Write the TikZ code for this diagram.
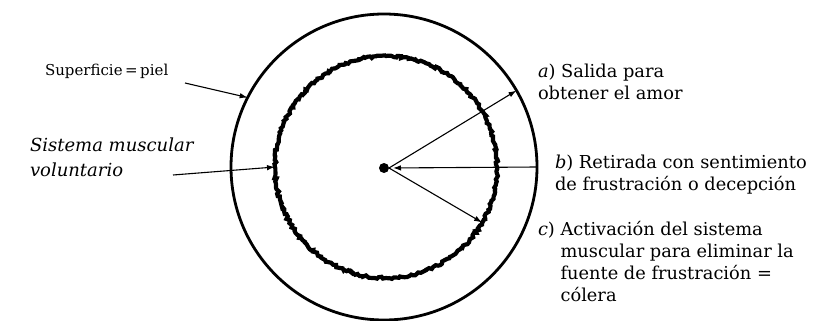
\documentclass[tikz,border=0pt]{standalone}
\usepackage{fontspec}
\setmainfont{DejaVu Serif}
\usetikzlibrary{positioning, arrows.meta, decorations.pathmorphing}

\begin{document}
\begin{tikzpicture}[x=1pt, y=-1pt,
    every node/.style={font=\fontsize{17.8}{22}\selectfont, inner sep=0pt, outer sep=0pt},
    skinring/.style={circle, draw, line width=2.8pt, minimum size=306pt},
    musclering/.style={line width=4.2pt, decorate, decoration={random steps, segment length=2pt, amplitude=1.2pt}},
    arrow/.style={-{Latex[length=8pt, width=5.5pt]}, line width=1.1pt},
    txt/.style={align=left, anchor=north west}]

  \pgfmathsetseed{7}
  \useasboundingbox (0,0) rectangle (814,321);

  \node[skinring] (skin) at (384,167) {};
  \node[circle, minimum size=222pt] (muscle) at (386,167) {};
  \draw[musclering] (386,167) circle (111);
  \node[circle, fill, minimum size=10pt] (ctr) at (384,168) {};

  \node[anchor=base west, font=\fontsize{15}{19}\selectfont] (suplbl) at (45,75) {Superficie\,=\,piel};
  \node[txt, font=\fontsize{18}{25}\selectfont\itshape] (muslbl) at (30,138) {Sistema muscular\\voluntario};

  \node[txt] (albl) at (538,64) {\emph{a}) Salida para\\obtener el amor};
  \node[txt] (blbl) at (555,155) {\emph{b}) Retirada con sentimiento\\de frustración o decepción};
  \node[txt] (clbl) at (538,220) {\begin{tabular}{@{}l@{\ }l@{}}\emph{c}) & Activación del sistema\\ & muscular para eliminar la\\ & fuente de frustración =\\ & cólera\end{tabular}};

  \coordinate (supend) at (185,83);
  \coordinate (musend) at (173,175);

  \draw[arrow] (supend) -- (skin.153);
  \draw[arrow] (musend) -- (muscle.180);
  \draw[arrow] (ctr.east) -- (skin.30);
  \draw[arrow, shorten >=4pt] (skin.0) -- (ctr.east);
  \draw[arrow] (ctr.east) -- (muscle.-30);
\end{tikzpicture}
\end{document}
